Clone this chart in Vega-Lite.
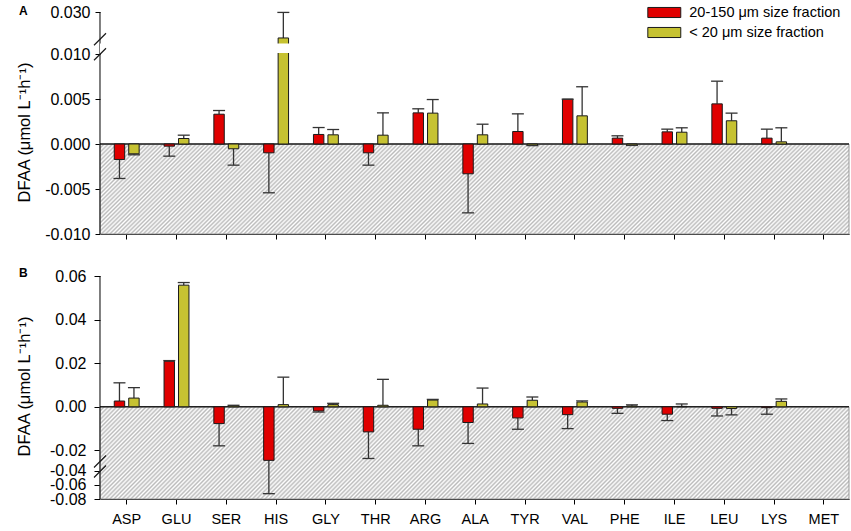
{
  "$schema": "https://vega.github.io/schema/vega-lite/v6.json",
  "padding": {"left": 15, "top": 4, "right": 0, "bottom": 0},
  "spacing": 25,
  "config": {
    "font": "Liberation Sans",
    "locale": {"number": {"decimal": ".", "thousands": ",", "grouping": [3], "currency": ["$", ""], "minus": "-"}},
    "view": {"stroke": null},
    "axis": {"grid": false, "domainColor": "#000", "tickColor": "#000", "labelColor": "#000", "titleColor": "#000", "domainWidth": 1, "tickWidth": 1, "labelOverlap": false},
    "rect": {"fill": {"gradient": "linear", "x1": 0, "y1": 0, "x2": 1.104, "y2": 0.134, "stops": [
{"offset":0,"color":"#bbb"},{"offset":0.0025,"color":"#fff"},{"offset":0.005,"color":"#bbb"},{"offset":0.0075,"color":"#fff"},
{"offset":0.01,"color":"#bbb"},{"offset":0.0125,"color":"#fff"},{"offset":0.015,"color":"#bbb"},{"offset":0.0175,"color":"#fff"},
{"offset":0.02,"color":"#bbb"},{"offset":0.0225,"color":"#fff"},{"offset":0.025,"color":"#bbb"},{"offset":0.0275,"color":"#fff"},
{"offset":0.03,"color":"#bbb"},{"offset":0.0325,"color":"#fff"},{"offset":0.035,"color":"#bbb"},{"offset":0.0375,"color":"#fff"},
{"offset":0.04,"color":"#bbb"},{"offset":0.0425,"color":"#fff"},{"offset":0.045,"color":"#bbb"},{"offset":0.0475,"color":"#fff"},
{"offset":0.05,"color":"#bbb"},{"offset":0.0525,"color":"#fff"},{"offset":0.055,"color":"#bbb"},{"offset":0.0575,"color":"#fff"},
{"offset":0.06,"color":"#bbb"},{"offset":0.0625,"color":"#fff"},{"offset":0.065,"color":"#bbb"},{"offset":0.0675,"color":"#fff"},
{"offset":0.07,"color":"#bbb"},{"offset":0.0725,"color":"#fff"},{"offset":0.075,"color":"#bbb"},{"offset":0.0775,"color":"#fff"},
{"offset":0.08,"color":"#bbb"},{"offset":0.0825,"color":"#fff"},{"offset":0.085,"color":"#bbb"},{"offset":0.0875,"color":"#fff"},
{"offset":0.09,"color":"#bbb"},{"offset":0.0925,"color":"#fff"},{"offset":0.095,"color":"#bbb"},{"offset":0.0975,"color":"#fff"},
{"offset":0.1,"color":"#bbb"},{"offset":0.1025,"color":"#fff"},{"offset":0.105,"color":"#bbb"},{"offset":0.1075,"color":"#fff"},
{"offset":0.11,"color":"#bbb"},{"offset":0.1125,"color":"#fff"},{"offset":0.115,"color":"#bbb"},{"offset":0.1175,"color":"#fff"},
{"offset":0.12,"color":"#bbb"},{"offset":0.1225,"color":"#fff"},{"offset":0.125,"color":"#bbb"},{"offset":0.1275,"color":"#fff"},
{"offset":0.13,"color":"#bbb"},{"offset":0.1325,"color":"#fff"},{"offset":0.135,"color":"#bbb"},{"offset":0.1375,"color":"#fff"},
{"offset":0.14,"color":"#bbb"},{"offset":0.1425,"color":"#fff"},{"offset":0.145,"color":"#bbb"},{"offset":0.1475,"color":"#fff"},
{"offset":0.15,"color":"#bbb"},{"offset":0.1525,"color":"#fff"},{"offset":0.155,"color":"#bbb"},{"offset":0.1575,"color":"#fff"},
{"offset":0.16,"color":"#bbb"},{"offset":0.1625,"color":"#fff"},{"offset":0.165,"color":"#bbb"},{"offset":0.1675,"color":"#fff"},
{"offset":0.17,"color":"#bbb"},{"offset":0.1725,"color":"#fff"},{"offset":0.175,"color":"#bbb"},{"offset":0.1775,"color":"#fff"},
{"offset":0.18,"color":"#bbb"},{"offset":0.1825,"color":"#fff"},{"offset":0.185,"color":"#bbb"},{"offset":0.1875,"color":"#fff"},
{"offset":0.19,"color":"#bbb"},{"offset":0.1925,"color":"#fff"},{"offset":0.195,"color":"#bbb"},{"offset":0.1975,"color":"#fff"},
{"offset":0.2,"color":"#bbb"},{"offset":0.2025,"color":"#fff"},{"offset":0.205,"color":"#bbb"},{"offset":0.2075,"color":"#fff"},
{"offset":0.21,"color":"#bbb"},{"offset":0.2125,"color":"#fff"},{"offset":0.215,"color":"#bbb"},{"offset":0.2175,"color":"#fff"},
{"offset":0.22,"color":"#bbb"},{"offset":0.2225,"color":"#fff"},{"offset":0.225,"color":"#bbb"},{"offset":0.2275,"color":"#fff"},
{"offset":0.23,"color":"#bbb"},{"offset":0.2325,"color":"#fff"},{"offset":0.235,"color":"#bbb"},{"offset":0.2375,"color":"#fff"},
{"offset":0.24,"color":"#bbb"},{"offset":0.2425,"color":"#fff"},{"offset":0.245,"color":"#bbb"},{"offset":0.2475,"color":"#fff"},
{"offset":0.25,"color":"#bbb"},{"offset":0.2525,"color":"#fff"},{"offset":0.255,"color":"#bbb"},{"offset":0.2575,"color":"#fff"},
{"offset":0.26,"color":"#bbb"},{"offset":0.2625,"color":"#fff"},{"offset":0.265,"color":"#bbb"},{"offset":0.2675,"color":"#fff"},
{"offset":0.27,"color":"#bbb"},{"offset":0.2725,"color":"#fff"},{"offset":0.275,"color":"#bbb"},{"offset":0.2775,"color":"#fff"},
{"offset":0.28,"color":"#bbb"},{"offset":0.2825,"color":"#fff"},{"offset":0.285,"color":"#bbb"},{"offset":0.2875,"color":"#fff"},
{"offset":0.29,"color":"#bbb"},{"offset":0.2925,"color":"#fff"},{"offset":0.295,"color":"#bbb"},{"offset":0.2975,"color":"#fff"},
{"offset":0.3,"color":"#bbb"},{"offset":0.3025,"color":"#fff"},{"offset":0.305,"color":"#bbb"},{"offset":0.3075,"color":"#fff"},
{"offset":0.31,"color":"#bbb"},{"offset":0.3125,"color":"#fff"},{"offset":0.315,"color":"#bbb"},{"offset":0.3175,"color":"#fff"},
{"offset":0.32,"color":"#bbb"},{"offset":0.3225,"color":"#fff"},{"offset":0.325,"color":"#bbb"},{"offset":0.3275,"color":"#fff"},
{"offset":0.33,"color":"#bbb"},{"offset":0.3325,"color":"#fff"},{"offset":0.335,"color":"#bbb"},{"offset":0.3375,"color":"#fff"},
{"offset":0.34,"color":"#bbb"},{"offset":0.3425,"color":"#fff"},{"offset":0.345,"color":"#bbb"},{"offset":0.3475,"color":"#fff"},
{"offset":0.35,"color":"#bbb"},{"offset":0.3525,"color":"#fff"},{"offset":0.355,"color":"#bbb"},{"offset":0.3575,"color":"#fff"},
{"offset":0.36,"color":"#bbb"},{"offset":0.3625,"color":"#fff"},{"offset":0.365,"color":"#bbb"},{"offset":0.3675,"color":"#fff"},
{"offset":0.37,"color":"#bbb"},{"offset":0.3725,"color":"#fff"},{"offset":0.375,"color":"#bbb"},{"offset":0.3775,"color":"#fff"},
{"offset":0.38,"color":"#bbb"},{"offset":0.3825,"color":"#fff"},{"offset":0.385,"color":"#bbb"},{"offset":0.3875,"color":"#fff"},
{"offset":0.39,"color":"#bbb"},{"offset":0.3925,"color":"#fff"},{"offset":0.395,"color":"#bbb"},{"offset":0.3975,"color":"#fff"},
{"offset":0.4,"color":"#bbb"},{"offset":0.4025,"color":"#fff"},{"offset":0.405,"color":"#bbb"},{"offset":0.4075,"color":"#fff"},
{"offset":0.41,"color":"#bbb"},{"offset":0.4125,"color":"#fff"},{"offset":0.415,"color":"#bbb"},{"offset":0.4175,"color":"#fff"},
{"offset":0.42,"color":"#bbb"},{"offset":0.4225,"color":"#fff"},{"offset":0.425,"color":"#bbb"},{"offset":0.4275,"color":"#fff"},
{"offset":0.43,"color":"#bbb"},{"offset":0.4325,"color":"#fff"},{"offset":0.435,"color":"#bbb"},{"offset":0.4375,"color":"#fff"},
{"offset":0.44,"color":"#bbb"},{"offset":0.4425,"color":"#fff"},{"offset":0.445,"color":"#bbb"},{"offset":0.4475,"color":"#fff"},
{"offset":0.45,"color":"#bbb"},{"offset":0.4525,"color":"#fff"},{"offset":0.455,"color":"#bbb"},{"offset":0.4575,"color":"#fff"},
{"offset":0.46,"color":"#bbb"},{"offset":0.4625,"color":"#fff"},{"offset":0.465,"color":"#bbb"},{"offset":0.4675,"color":"#fff"},
{"offset":0.47,"color":"#bbb"},{"offset":0.4725,"color":"#fff"},{"offset":0.475,"color":"#bbb"},{"offset":0.4775,"color":"#fff"},
{"offset":0.48,"color":"#bbb"},{"offset":0.4825,"color":"#fff"},{"offset":0.485,"color":"#bbb"},{"offset":0.4875,"color":"#fff"},
{"offset":0.49,"color":"#bbb"},{"offset":0.4925,"color":"#fff"},{"offset":0.495,"color":"#bbb"},{"offset":0.4975,"color":"#fff"},
{"offset":0.5,"color":"#bbb"},{"offset":0.5025,"color":"#fff"},{"offset":0.505,"color":"#bbb"},{"offset":0.5075,"color":"#fff"},
{"offset":0.51,"color":"#bbb"},{"offset":0.5125,"color":"#fff"},{"offset":0.515,"color":"#bbb"},{"offset":0.5175,"color":"#fff"},
{"offset":0.52,"color":"#bbb"},{"offset":0.5225,"color":"#fff"},{"offset":0.525,"color":"#bbb"},{"offset":0.5275,"color":"#fff"},
{"offset":0.53,"color":"#bbb"},{"offset":0.5325,"color":"#fff"},{"offset":0.535,"color":"#bbb"},{"offset":0.5375,"color":"#fff"},
{"offset":0.54,"color":"#bbb"},{"offset":0.5425,"color":"#fff"},{"offset":0.545,"color":"#bbb"},{"offset":0.5475,"color":"#fff"},
{"offset":0.55,"color":"#bbb"},{"offset":0.5525,"color":"#fff"},{"offset":0.555,"color":"#bbb"},{"offset":0.5575,"color":"#fff"},
{"offset":0.56,"color":"#bbb"},{"offset":0.5625,"color":"#fff"},{"offset":0.565,"color":"#bbb"},{"offset":0.5675,"color":"#fff"},
{"offset":0.57,"color":"#bbb"},{"offset":0.5725,"color":"#fff"},{"offset":0.575,"color":"#bbb"},{"offset":0.5775,"color":"#fff"},
{"offset":0.58,"color":"#bbb"},{"offset":0.5825,"color":"#fff"},{"offset":0.585,"color":"#bbb"},{"offset":0.5875,"color":"#fff"},
{"offset":0.59,"color":"#bbb"},{"offset":0.5925,"color":"#fff"},{"offset":0.595,"color":"#bbb"},{"offset":0.5975,"color":"#fff"},
{"offset":0.6,"color":"#bbb"},{"offset":0.6025,"color":"#fff"},{"offset":0.605,"color":"#bbb"},{"offset":0.6075,"color":"#fff"},
{"offset":0.61,"color":"#bbb"},{"offset":0.6125,"color":"#fff"},{"offset":0.615,"color":"#bbb"},{"offset":0.6175,"color":"#fff"},
{"offset":0.62,"color":"#bbb"},{"offset":0.6225,"color":"#fff"},{"offset":0.625,"color":"#bbb"},{"offset":0.6275,"color":"#fff"},
{"offset":0.63,"color":"#bbb"},{"offset":0.6325,"color":"#fff"},{"offset":0.635,"color":"#bbb"},{"offset":0.6375,"color":"#fff"},
{"offset":0.64,"color":"#bbb"},{"offset":0.6425,"color":"#fff"},{"offset":0.645,"color":"#bbb"},{"offset":0.6475,"color":"#fff"},
{"offset":0.65,"color":"#bbb"},{"offset":0.6525,"color":"#fff"},{"offset":0.655,"color":"#bbb"},{"offset":0.6575,"color":"#fff"},
{"offset":0.66,"color":"#bbb"},{"offset":0.6625,"color":"#fff"},{"offset":0.665,"color":"#bbb"},{"offset":0.6675,"color":"#fff"},
{"offset":0.67,"color":"#bbb"},{"offset":0.6725,"color":"#fff"},{"offset":0.675,"color":"#bbb"},{"offset":0.6775,"color":"#fff"},
{"offset":0.68,"color":"#bbb"},{"offset":0.6825,"color":"#fff"},{"offset":0.685,"color":"#bbb"},{"offset":0.6875,"color":"#fff"},
{"offset":0.69,"color":"#bbb"},{"offset":0.6925,"color":"#fff"},{"offset":0.695,"color":"#bbb"},{"offset":0.6975,"color":"#fff"},
{"offset":0.7,"color":"#bbb"},{"offset":0.7025,"color":"#fff"},{"offset":0.705,"color":"#bbb"},{"offset":0.7075,"color":"#fff"},
{"offset":0.71,"color":"#bbb"},{"offset":0.7125,"color":"#fff"},{"offset":0.715,"color":"#bbb"},{"offset":0.7175,"color":"#fff"},
{"offset":0.72,"color":"#bbb"},{"offset":0.7225,"color":"#fff"},{"offset":0.725,"color":"#bbb"},{"offset":0.7275,"color":"#fff"},
{"offset":0.73,"color":"#bbb"},{"offset":0.7325,"color":"#fff"},{"offset":0.735,"color":"#bbb"},{"offset":0.7375,"color":"#fff"},
{"offset":0.74,"color":"#bbb"},{"offset":0.7425,"color":"#fff"},{"offset":0.745,"color":"#bbb"},{"offset":0.7475,"color":"#fff"},
{"offset":0.75,"color":"#bbb"},{"offset":0.7525,"color":"#fff"},{"offset":0.755,"color":"#bbb"},{"offset":0.7575,"color":"#fff"},
{"offset":0.76,"color":"#bbb"},{"offset":0.7625,"color":"#fff"},{"offset":0.765,"color":"#bbb"},{"offset":0.7675,"color":"#fff"},
{"offset":0.77,"color":"#bbb"},{"offset":0.7725,"color":"#fff"},{"offset":0.775,"color":"#bbb"},{"offset":0.7775,"color":"#fff"},
{"offset":0.78,"color":"#bbb"},{"offset":0.7825,"color":"#fff"},{"offset":0.785,"color":"#bbb"},{"offset":0.7875,"color":"#fff"},
{"offset":0.79,"color":"#bbb"},{"offset":0.7925,"color":"#fff"},{"offset":0.795,"color":"#bbb"},{"offset":0.7975,"color":"#fff"},
{"offset":0.8,"color":"#bbb"},{"offset":0.8025,"color":"#fff"},{"offset":0.805,"color":"#bbb"},{"offset":0.8075,"color":"#fff"},
{"offset":0.81,"color":"#bbb"},{"offset":0.8125,"color":"#fff"},{"offset":0.815,"color":"#bbb"},{"offset":0.8175,"color":"#fff"},
{"offset":0.82,"color":"#bbb"},{"offset":0.8225,"color":"#fff"},{"offset":0.825,"color":"#bbb"},{"offset":0.8275,"color":"#fff"},
{"offset":0.83,"color":"#bbb"},{"offset":0.8325,"color":"#fff"},{"offset":0.835,"color":"#bbb"},{"offset":0.8375,"color":"#fff"},
{"offset":0.84,"color":"#bbb"},{"offset":0.8425,"color":"#fff"},{"offset":0.845,"color":"#bbb"},{"offset":0.8475,"color":"#fff"},
{"offset":0.85,"color":"#bbb"},{"offset":0.8525,"color":"#fff"},{"offset":0.855,"color":"#bbb"},{"offset":0.8575,"color":"#fff"},
{"offset":0.86,"color":"#bbb"},{"offset":0.8625,"color":"#fff"},{"offset":0.865,"color":"#bbb"},{"offset":0.8675,"color":"#fff"},
{"offset":0.87,"color":"#bbb"},{"offset":0.8725,"color":"#fff"},{"offset":0.875,"color":"#bbb"},{"offset":0.8775,"color":"#fff"},
{"offset":0.88,"color":"#bbb"},{"offset":0.8825,"color":"#fff"},{"offset":0.885,"color":"#bbb"},{"offset":0.8875,"color":"#fff"},
{"offset":0.89,"color":"#bbb"},{"offset":0.8925,"color":"#fff"},{"offset":0.895,"color":"#bbb"},{"offset":0.8975,"color":"#fff"},
{"offset":0.9,"color":"#bbb"},{"offset":0.9025,"color":"#fff"},{"offset":0.905,"color":"#bbb"},{"offset":0.9075,"color":"#fff"},
{"offset":0.91,"color":"#bbb"},{"offset":0.9125,"color":"#fff"},{"offset":0.915,"color":"#bbb"},{"offset":0.9175,"color":"#fff"},
{"offset":0.92,"color":"#bbb"},{"offset":0.9225,"color":"#fff"},{"offset":0.925,"color":"#bbb"},{"offset":0.9275,"color":"#fff"},
{"offset":0.93,"color":"#bbb"},{"offset":0.9325,"color":"#fff"},{"offset":0.935,"color":"#bbb"},{"offset":0.9375,"color":"#fff"},
{"offset":0.94,"color":"#bbb"},{"offset":0.9425,"color":"#fff"},{"offset":0.945,"color":"#bbb"},{"offset":0.9475,"color":"#fff"},
{"offset":0.95,"color":"#bbb"},{"offset":0.9525,"color":"#fff"},{"offset":0.955,"color":"#bbb"},{"offset":0.9575,"color":"#fff"},
{"offset":0.96,"color":"#bbb"},{"offset":0.9625,"color":"#fff"},{"offset":0.965,"color":"#bbb"},{"offset":0.9675,"color":"#fff"},
{"offset":0.97,"color":"#bbb"},{"offset":0.9725,"color":"#fff"},{"offset":0.975,"color":"#bbb"},{"offset":0.9775,"color":"#fff"},
{"offset":0.98,"color":"#bbb"},{"offset":0.9825,"color":"#fff"},{"offset":0.985,"color":"#bbb"},{"offset":0.9875,"color":"#fff"},
{"offset":0.99,"color":"#bbb"},{"offset":0.9925,"color":"#fff"},{"offset":0.995,"color":"#bbb"},{"offset":0.9975,"color":"#fff"},
{"offset":1,"color":"#bbb"}
    ]}}
  },
  "datasets": {
    "a": [
      {"aa": "ASP", "size": "20-150 μm", "v": -0.00172, "e": -0.00383},
      {"aa": "ASP", "size": "< 20 μm", "v": -0.00109, "e": -0.0012},
      {"aa": "GLU", "size": "20-150 μm", "v": -0.00024, "e": -0.00135},
      {"aa": "GLU", "size": "< 20 μm", "v": 0.00061, "e": 0.00098},
      {"aa": "SER", "size": "20-150 μm", "v": 0.00331, "e": 0.00372},
      {"aa": "SER", "size": "< 20 μm", "v": -0.00053, "e": -0.00235},
      {"aa": "HIS", "size": "20-150 μm", "v": -0.00098, "e": -0.00542},
      {"aa": "HIS", "size": "< 20 μm", "v": 0.0176, "e": 0.0298},
      {"aa": "GLY", "size": "20-150 μm", "v": 0.00106, "e": 0.00183},
      {"aa": "GLY", "size": "< 20 μm", "v": 0.00102, "e": 0.00161},
      {"aa": "THR", "size": "20-150 μm", "v": -0.00098, "e": -0.00235},
      {"aa": "THR", "size": "< 20 μm", "v": 0.00098, "e": 0.00346},
      {"aa": "ARG", "size": "20-150 μm", "v": 0.00346, "e": 0.00391},
      {"aa": "ARG", "size": "< 20 μm", "v": 0.00343, "e": 0.00494},
      {"aa": "ALA", "size": "20-150 μm", "v": -0.00331, "e": -0.00765},
      {"aa": "ALA", "size": "< 20 μm", "v": 0.00102, "e": 0.0022},
      {"aa": "TYR", "size": "20-150 μm", "v": 0.00139, "e": 0.00335},
      {"aa": "TYR", "size": "< 20 μm", "v": -0.00013, "e": -0.00018},
      {"aa": "VAL", "size": "20-150 μm", "v": 0.00498, "e": 0.00498},
      {"aa": "VAL", "size": "< 20 μm", "v": 0.00313, "e": 0.00636},
      {"aa": "PHE", "size": "20-150 μm", "v": 0.00065, "e": 0.00091},
      {"aa": "PHE", "size": "< 20 μm", "v": -0.00013, "e": -0.00016},
      {"aa": "ILE", "size": "20-150 μm", "v": 0.00135, "e": 0.00165},
      {"aa": "ILE", "size": "< 20 μm", "v": 0.00131, "e": 0.0018},
      {"aa": "LEU", "size": "20-150 μm", "v": 0.00446, "e": 0.00698},
      {"aa": "LEU", "size": "< 20 μm", "v": 0.00258, "e": 0.00343},
      {"aa": "LYS", "size": "20-150 μm", "v": 0.00065, "e": 0.00165},
      {"aa": "LYS", "size": "< 20 μm", "v": 0.00024, "e": 0.0018}
    ],
    "b": [
      {"aa": "ASP", "size": "20-150 μm", "v": 0.00265, "e": 0.011},
      {"aa": "ASP", "size": "< 20 μm", "v": 0.004, "e": 0.0088},
      {"aa": "GLU", "size": "20-150 μm", "v": 0.0209, "e": 0.0212},
      {"aa": "GLU", "size": "< 20 μm", "v": 0.0558, "e": 0.057},
      {"aa": "SER", "size": "20-150 μm", "v": -0.0077, "e": -0.0179},
      {"aa": "SER", "size": "< 20 μm", "v": 0.0005, "e": 0.0007},
      {"aa": "HIS", "size": "20-150 μm", "v": -0.0249, "e": -0.0724},
      {"aa": "HIS", "size": "< 20 μm", "v": 0.001, "e": 0.0136},
      {"aa": "GLY", "size": "20-150 μm", "v": -0.0019, "e": -0.0024},
      {"aa": "GLY", "size": "< 20 μm", "v": 0.001, "e": 0.0016},
      {"aa": "THR", "size": "20-150 μm", "v": -0.0115, "e": -0.0237},
      {"aa": "THR", "size": "< 20 μm", "v": 0.0007, "e": 0.0126},
      {"aa": "ARG", "size": "20-150 μm", "v": -0.0103, "e": -0.0179},
      {"aa": "ARG", "size": "< 20 μm", "v": 0.0031, "e": 0.0034},
      {"aa": "ALA", "size": "20-150 μm", "v": -0.0072, "e": -0.0168},
      {"aa": "ALA", "size": "< 20 μm", "v": 0.0013, "e": 0.0086},
      {"aa": "TYR", "size": "20-150 μm", "v": -0.0051, "e": -0.0103},
      {"aa": "TYR", "size": "< 20 μm", "v": 0.003, "e": 0.0045},
      {"aa": "VAL", "size": "20-150 μm", "v": -0.0036, "e": -0.01},
      {"aa": "VAL", "size": "< 20 μm", "v": 0.0022, "e": 0.0027},
      {"aa": "PHE", "size": "20-150 μm", "v": -0.0007, "e": -0.003},
      {"aa": "PHE", "size": "< 20 μm", "v": 0.0004, "e": 0.0009},
      {"aa": "ILE", "size": "20-150 μm", "v": -0.0034, "e": -0.0063},
      {"aa": "ILE", "size": "< 20 μm", "v": 0.0002, "e": 0.0013},
      {"aa": "LEU", "size": "20-150 μm", "v": -0.0007, "e": -0.0042},
      {"aa": "LEU", "size": "< 20 μm", "v": -0.0008, "e": -0.0037},
      {"aa": "LYS", "size": "20-150 μm", "v": -0.0004, "e": -0.0034},
      {"aa": "LYS", "size": "< 20 μm", "v": 0.0025, "e": 0.0036}
    ]
  },
  "resolve": {"scale": {"x": "independent", "y": "independent", "color": "independent"}},
  "vconcat": [
    {
      "width": 749,
      "height": 222,
      "title": {"text": "A", "anchor": "start", "frame": "bounds", "fontSize": 12, "fontWeight": "bold", "baseline": "alphabetic", "offset": -23, "dx": 3},
      "layer": [
        {
          "data": {"values": [{}]},
          "mark": {"type": "rect", "stroke": "#9a9a9a", "strokeWidth": 1},
          "encoding": {
            "y": {
              "datum": 0, "type": "quantitative",
              "scale": {"domain": [-0.01, 0.0101, 0.015, 0.03], "range": [222, 41.1, 31.4, 0], "zero": false, "nice": false},
              "axis": {
                "values": [-0.01, -0.005, 0, 0.005, 0.01, 0.03], "tickCount": 10, "format": ".3f", "domain": false, "labelOverlap": false,
                "tickSize": 5, "labelPadding": 5, "labelFontSize": 16,
                "title": "DFAA (μmol L⁻¹h⁻¹)", "titleFontSize": 16.5, "titleFontWeight": "normal",
                "titleAngle": -90, "titleBaseline": "alphabetic", "titleAlign": "center", "titleX": -71, "titleY": 120
              }
            },
            "y2": {"datum": -0.01}
          }
        },
        {
          "data": {"values": [{}]},
          "mark": {"type": "rule", "stroke": "#222", "strokeWidth": 1.5},
          "encoding": {"y": {"datum": 0, "type": "quantitative"}}
        },
        {
          "data": {"name": "a"},
          "mark": {"type": "rule", "stroke": "#333", "strokeWidth": 1.3},
          "encoding": {
            "x": {"field": "aa", "type": "nominal"},
            "xOffset": {"field": "size", "type": "nominal"},
            "y": {"field": "v", "type": "quantitative"},
            "y2": {"field": "e"}
          }
        },
        {
          "data": {"name": "a"},
          "mark": {"type": "bar", "stroke": "#1a1a1a", "strokeWidth": 1},
          "encoding": {
            "x": {
              "field": "aa", "type": "nominal",
              "scale": {"domain": ["ASP", "GLU", "SER", "HIS", "GLY", "THR", "ARG", "ALA", "TYR", "VAL", "PHE", "ILE", "LEU", "LYS", "MET"], "paddingInner": 0.5, "paddingOuter": 0.27, "align": 0.53},
              "axis": {"labels": false, "title": null, "tickSize": 5, "bandPosition": 0.5}
            },
            "xOffset": {"field": "size", "type": "nominal", "scale": {"domain": ["20-150 μm", "< 20 μm"], "paddingInner": 0.28, "paddingOuter": 0}},
            "y": {"field": "v", "type": "quantitative"},
            "y2": {"datum": 0},
            "color": {
              "field": "size", "type": "nominal",
              "scale": {"domain": ["20-150 μm", "< 20 μm"], "range": ["#e00000", "#c6c232"]},
              "legend": {
                "title": null, "orient": "none", "legendX": 555.8, "legendY": -8, "padding": 0,
                "symbolType": "M-2.06,-0.63H2.06V0.63H-2.06Z", "symbolSize": 256,
                "symbolStrokeColor": "#1a1a1a", "symbolStrokeWidth": 1, "symbolOpacity": 1,
                "labelFontSize": 14.5, "labelColor": "#000", "labelOffset": 16.5, "rowPadding": 4,
                "labelExpr": "datum.label + ' size fraction'"
              }
            }
          }
        },
        {
          "data": {"name": "a"},
          "mark": {"type": "tick", "orient": "horizontal", "size": 12, "thickness": 1.3, "color": "#333", "opacity": 1},
          "encoding": {
            "x": {"field": "aa", "type": "nominal"},
            "xOffset": {"field": "size", "type": "nominal"},
            "y": {"field": "e", "type": "quantitative"}
          }
        },
        {
          "data": {"values": [{}]},
          "mark": {"type": "rule", "stroke": "#000", "strokeWidth": 1},
          "encoding": {
            "x": {"datum": "ASP", "type": "nominal", "bandPosition": -0.5727},
            "y": {"datum": -0.01, "type": "quantitative"},
            "y2": {"datum": 0.03}
          }
        },
        {
          "data": {"values": [{}]},
          "mark": {"type": "rect", "fill": "#ffffff", "stroke": null},
          "encoding": {
            "y": {"datum": 0.0102, "type": "quantitative"},
            "y2": {"datum": 0.0149}
          }
        },
        {
          "data": {"values": [{}]},
          "mark": {"type": "point", "shape": "M-1,2.25L1,0.25M-1,-0.25L1,-2.25", "size": 144, "filled": false, "stroke": "#1a1a1a", "strokeWidth": 1.2, "opacity": 1},
          "encoding": {
            "x": {"datum": "ASP", "type": "nominal", "bandPosition": -0.5727},
            "y": {"datum": 0.0133, "type": "quantitative"}
          }
        }
      ]
    },
    {
      "width": 749,
      "height": 223,
      "title": {"text": "B", "anchor": "start", "frame": "bounds", "fontSize": 12, "fontWeight": "bold", "baseline": "alphabetic", "offset": -21, "dx": 3},
      "layer": [
        {
          "data": {"values": [{}]},
          "mark": {"type": "rect", "stroke": "#9a9a9a", "strokeWidth": 1},
          "encoding": {
            "y": {
              "datum": 0, "type": "quantitative",
              "scale": {"domain": [-0.08, -0.0343, -0.0244, 0.06], "range": [223, 191, 184, 0], "zero": false, "nice": false},
              "axis": {
                "values": [-0.08, -0.06, -0.04, -0.02, 0, 0.02, 0.04, 0.06], "tickCount": 12, "format": ".2f", "domain": false, "labelOverlap": false,
                "tickSize": 6, "labelPadding": 8, "labelFontSize": 16,
                "title": "DFAA (μmol L⁻¹h⁻¹)", "titleFontSize": 16.5, "titleFontWeight": "normal",
                "titleAngle": -90, "titleBaseline": "alphabetic", "titleAlign": "center", "titleX": -71, "titleY": 110
              }
            },
            "y2": {"datum": -0.08}
          }
        },
        {
          "data": {"values": [{}]},
          "mark": {"type": "rule", "stroke": "#222", "strokeWidth": 1.5},
          "encoding": {"y": {"datum": 0, "type": "quantitative"}}
        },
        {
          "data": {"name": "b"},
          "mark": {"type": "rule", "stroke": "#333", "strokeWidth": 1.3},
          "encoding": {
            "x": {"field": "aa", "type": "nominal"},
            "xOffset": {"field": "size", "type": "nominal"},
            "y": {"field": "v", "type": "quantitative"},
            "y2": {"field": "e"}
          }
        },
        {
          "data": {"name": "b"},
          "mark": {"type": "bar", "stroke": "#1a1a1a", "strokeWidth": 1},
          "encoding": {
            "x": {
              "field": "aa", "type": "nominal",
              "scale": {"domain": ["ASP", "GLU", "SER", "HIS", "GLY", "THR", "ARG", "ALA", "TYR", "VAL", "PHE", "ILE", "LEU", "LYS", "MET"], "paddingInner": 0.5, "paddingOuter": 0.27, "align": 0.53},
              "axis": {"title": null, "tickSize": 5, "bandPosition": 0.5, "labelAngle": 0, "labelAlign": "center", "labelFontSize": 14.5, "labelPadding": 15}
            },
            "xOffset": {"field": "size", "type": "nominal", "scale": {"domain": ["20-150 μm", "< 20 μm"], "paddingInner": 0.28, "paddingOuter": 0}},
            "y": {"field": "v", "type": "quantitative"},
            "y2": {"datum": 0},
            "color": {
              "field": "size", "type": "nominal",
              "scale": {"domain": ["20-150 μm", "< 20 μm"], "range": ["#e00000", "#c6c232"]},
              "legend": null
            }
          }
        },
        {
          "data": {"name": "b"},
          "mark": {"type": "tick", "orient": "horizontal", "size": 12, "thickness": 1.3, "color": "#333", "opacity": 1},
          "encoding": {
            "x": {"field": "aa", "type": "nominal"},
            "xOffset": {"field": "size", "type": "nominal"},
            "y": {"field": "e", "type": "quantitative"}
          }
        },
        {
          "data": {"values": [{}]},
          "mark": {"type": "rule", "stroke": "#000", "strokeWidth": 1},
          "encoding": {
            "x": {"datum": "ASP", "type": "nominal", "bandPosition": -0.5727},
            "y": {"datum": -0.08, "type": "quantitative"},
            "y2": {"datum": 0.06}
          }
        },
        {
          "data": {"values": [{}]},
          "mark": {"type": "point", "shape": "M-1,1.83L1,-0.17M-1,0.17L1,-1.83", "size": 144, "filled": false, "stroke": "#1a1a1a", "strokeWidth": 1.2, "opacity": 1},
          "encoding": {
            "x": {"datum": "ASP", "type": "nominal", "bandPosition": -0.5727},
            "y": {"datum": -0.0336, "type": "quantitative"}
          }
        }
      ]
    }
  ]
}
